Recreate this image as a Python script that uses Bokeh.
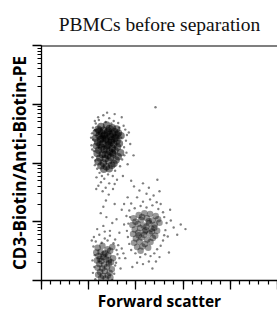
from bokeh.plotting import figure
from bokeh.models import Span, SingleIntervalTicker, LogTicker, Range1d, CustomJSTickFormatter
from bokeh.embed import file_html
from bokeh.resources import INLINE

title_text = "PBMCs before separation"
x_label = "Forward scatter"
y_label = "CD3-Biotin/Anti-Biotin-PE"

# Cluster A (CD3+), dense core
a_core_x = [252, 276, 300, 318, 240, 263, 288, 310, 232, 255, 279, 302, 326, 244, 268, 292, 315, 337,
            229, 250, 274, 297, 320, 238, 260, 284, 306, 330, 233, 255, 278, 300, 322, 242, 265, 288,
            311, 335, 236, 258, 281, 303, 325, 247, 270, 293, 316, 240, 262, 285, 307, 252, 275, 298,
            264, 287, 270, 286, 262, 295, 276, 248, 309, 283, 258, 300, 270, 245, 320, 290]
a_core_y = [420, 445, 400, 380, 375, 360, 385, 340, 330, 320, 335, 310, 325, 290, 300, 280, 270, 290,
            265, 250, 262, 245, 238, 225, 215, 230, 208, 215, 195, 185, 198, 178, 188, 165, 170, 158,
            165, 150, 145, 140, 135, 142, 128, 122, 118, 125, 112, 105, 100, 108, 98, 90, 86, 92,
            78, 80, 250, 205, 285, 225, 175, 205, 260, 350, 265, 150, 140, 350, 300, 310]
# Cluster A, sparse events
a_sparse = [(262, 650), (287, 580), (243, 540), (306, 520), (272, 500), (325, 480), (230, 470), (296, 470),
            (348, 430), (218, 400), (355, 370), (214, 320), (362, 300), (220, 250), (358, 240), (212, 200),
            (350, 185), (222, 160), (360, 150), (216, 125), (342, 115), (226, 92), (333, 88), (236, 80),
            (312, 74), (246, 68), (282, 64), (302, 60), (233, 57), (266, 54), (320, 52), (252, 47),
            (287, 45), (241, 41), (272, 38), (303, 36), (259, 33), (285, 29),
            (273, 23), (262, 18), (251, 14), (370, 330), (376, 210),
            (365, 95), (345, 60), (226, 520), (340, 600), (310, 680), (278, 720), (390, 135), (491, 52),
            (483, 890), (228, 110), (338, 270), (330, 400), (210, 270), (226, 360), (215, 170), (351, 135),
            (240, 600), (256, 60), (310, 44), (232, 36)]

# Cluster B (small, CD3-), dense core
b_core = [(238, 3.6), (258, 3.9), (280, 3.4), (300, 3.7), (232, 3.0), (250, 3.1), (270, 2.9), (291, 3.2),
          (242, 2.6), (262, 2.5), (283, 2.7), (303, 2.4), (235, 2.2), (254, 2.15), (274, 2.3), (295, 2.05),
          (245, 1.9), (265, 1.85), (286, 1.95), (238, 1.65), (257, 1.6), (278, 1.7), (298, 1.55), (248, 1.4),
          (268, 1.45), (289, 1.35), (240, 1.25), (260, 1.2), (281, 1.22), (252, 1.1), (272, 1.08), (292, 1.12),
          (264, 2.8), (247, 2.35), (285, 2.2)]
b_sparse = [(222, 5.5), (245, 6.0), (268, 5.2), (290, 5.8), (312, 5.0), (230, 4.6), (255, 4.4), (280, 4.8),
            (305, 4.3), (325, 4.0), (220, 3.8), (318, 3.3), (226, 2.7), (322, 2.8), (216, 2.2), (316, 2.0),
            (224, 1.7), (312, 1.8), (218, 1.35), (308, 1.3), (228, 1.05), (300, 1.02), (330, 2.4), (335, 1.6),
            (340, 3.5), (236, 7.5), (262, 8.5), (290, 7.0), (275, 12.0), (300, 9.5),
            (318, 11.0), (310, 20.0), (330, 6.5), (268, 6.8), (213, 4.8), (347, 2.9)]

# Cluster C (larger, CD3-), dense core
c_core = [(390, 11.5), (412, 13.0), (436, 14.0), (460, 13.5), (484, 12.5), (398, 10.0), (422, 10.8),
          (447, 11.5), (470, 10.5), (494, 11.0), (385, 8.8), (408, 9.2), (432, 8.6), (456, 9.4), (480, 8.9),
          (500, 9.6), (395, 7.4), (418, 7.8), (442, 7.2), (466, 7.6), (490, 7.0), (388, 6.2), (410, 6.5),
          (434, 6.0), (458, 6.3), (482, 5.8), (400, 5.2), (424, 5.4), (448, 5.0), (472, 5.3), (392, 4.4),
          (415, 4.6), (438, 4.2), (462, 4.5), (405, 3.7), (428, 3.8), (452, 3.6), (420, 3.2), (444, 8.2),
          (468, 6.8), (426, 12.0), (454, 10.2), (437, 6.8), (478, 7.9), (412, 5.9)]
c_sparse = [(372, 15.5), (395, 17.0), (420, 18.5), (445, 17.5), (470, 19.0), (495, 16.5), (515, 14.5),
            (380, 20.5), (430, 22.0), (460, 24.0), (488, 21.5), (405, 26.0), (445, 30.0), (475, 28.0),
            (415, 34.0), (455, 38.0), (392, 40.0), (520, 12.0), (530, 9.5), (525, 7.2), (535, 5.6),
            (515, 4.8), (505, 3.9), (490, 3.4), (478, 2.9), (462, 2.6), (440, 2.8), (418, 2.5), (398, 2.9),
            (380, 3.3), (372, 4.2), (366, 5.5), (362, 7.0), (368, 9.3), (375, 12.0), (548, 10.5), (560, 8.0),
            (575, 6.0), (590, 9.0), (610, 7.5), (545, 16.0), (505, 20.0), (455, 2.1), (430, 1.9), (405, 2.0),
            (385, 1.7), (470, 1.6), (500, 2.5), (540, 3.0), (355, 2.4), (350, 9.0), (360, 12.5), (340, 16.0),
            (350, 20.0), (365, 26.0), (430, 45.0), (380, 50.0), (500, 33.0), (485, 2.1), (520, 5.9)]

p = figure(width=277, height=314, output_backend="svg", toolbar_location=None,
           y_axis_type="log", x_range=Range1d(0, 1000), y_range=Range1d(1, 10000),
           min_border_left=41, min_border_right=0, min_border_top=45, min_border_bottom=29)
p.outline_line_color = None
p.grid.visible = False
p.background_fill_color = "white"

p.title.text = title_text
p.title.text_font = "Liberation Serif"
p.title.text_font_style = "normal"
p.title.text_font_size = "19.5px"
p.title.align = "center"
p.title.offset = -4
p.title.text_color = "#111111"
p.title.standoff = 21

blank = CustomJSTickFormatter(code="return '';")
xa = p.xaxis[0]
xa.ticker = SingleIntervalTicker(interval=200, num_minor_ticks=5)
ya = p.yaxis[0]
ya.ticker = LogTicker(num_minor_ticks=10)
for ax in (xa, ya):
    ax.formatter = blank
    ax.major_label_text_font_size = "1px"
    ax.major_label_standoff = 0
    ax.major_tick_in = 0
    ax.major_tick_out = 9
    ax.minor_tick_in = 0
    ax.minor_tick_out = 4
    ax.axis_line_color = "black"
    ax.axis_line_width = 1.3
    ax.major_tick_line_color = "black"
    ax.minor_tick_line_color = "black"
    ax.major_tick_line_width = 1.3
    ax.minor_tick_line_width = 1.2
    ax.axis_label_text_font = "Open Sans"
    ax.axis_label_text_font_style = "bold"
    ax.axis_label_text_color = "black"
xa.axis_label = x_label
xa.axis_label_text_font_size = "15.5px"
xa.axis_label_standoff = 0
ya.axis_label = y_label
ya.axis_label_text_font_size = "17px"
ya.axis_label_standoff = 2

p.add_layout(Span(location=10000, dimension="width", line_color="black", line_width=2))

def xs(pts):
    return [q[0] for q in pts]

def ys(pts):
    return [q[1] for q in pts]

sparse_all = a_sparse + b_sparse + c_sparse
p.scatter(xs(sparse_all), ys(sparse_all), size=2.4, color="black", alpha=0.5, line_color=None)
p.scatter(xs(c_core), ys(c_core), size=6.5, color="black", alpha=0.4, line_color=None)
p.scatter(xs(b_core), ys(b_core), size=6.5, color="black", alpha=0.42, line_color=None)
p.scatter(a_core_x, a_core_y, size=7.5, color="black", alpha=0.5, line_color=None)

open("out.html", "w").write(file_html(p, INLINE))
